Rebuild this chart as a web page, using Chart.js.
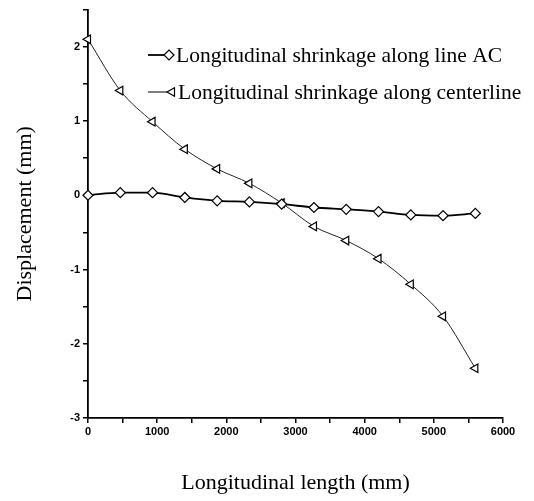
<!DOCTYPE html>
<html>
<head>
<meta charset="utf-8">
<script src="https://cdn.jsdelivr.net/npm/chart.js@4.4.1/dist/chart.umd.min.js"></script>
<style>
  html, body { margin: 0; padding: 0; background: #fff; }
  #wrap { width: 534px; height: 501px; position: relative; }
</style>
</head>
<body>
<div id="wrap"><canvas id="c" width="534" height="501"></canvas></div>
<script>
// ---- data ----
const xPositions = [0, 467, 933, 1400, 1867, 2333, 2800, 3267, 3733, 4200, 4667, 5133, 5600];
const lineAC = [0.0, 0.035, 0.035, -0.03, -0.075, -0.09, -0.12, -0.165, -0.19, -0.22, -0.265, -0.275, -0.245];
const centerline = [2.1, 1.41, 0.99, 0.62, 0.355, 0.16, -0.105, -0.42, -0.61, -0.855, -1.2, -1.63, -2.33];
const xTickValues = [0, 500, 1000, 1500, 2000, 2500, 3000, 3500, 4000, 4500, 5000, 5500, 6000];
const xTickLabels = ['0', '', '1000', '', '2000', '', '3000', '', '4000', '', '5000', '', '6000'];
const yTickValues = [-3, -2.5, -2, -1.5, -1, -0.5, 0, 0.5, 1, 1.5, 2, 2.5];
const yTickLabels = ['-3', '', '-2', '', '-1', '', '0', '', '1', '', '2', ''];
const seriesNames = ['Longitudinal shrinkage along line AC', 'Longitudinal shrinkage along centerline'];

const acData = xPositions.map((x, i) => ({ x: x, y: lineAC[i] }));
const clData = xPositions.map((x, i) => ({ x: x, y: centerline[i] }));

const legendPlugin = {
  id: 'customLegend',
  afterDraw(chart) {
    const ctx = chart.ctx;
    ctx.save();
    ctx.font = '21.5px "Liberation Serif", "Times New Roman", serif';
    ctx.textBaseline = 'middle';
    ctx.fillStyle = '#000';
    const rows = [
      { y: 55, lw: 1.8, x0: 148, x1: 164, mx: 169, style: 'rectRot', rot: 0, tx: 176 },
      { y: 92, lw: 1, x0: 148, x1: 167, mx: 172, style: 'triangle', rot: -90, tx: 178 }
    ];
    rows.forEach((r, i) => {
      ctx.strokeStyle = '#000';
      ctx.lineWidth = r.lw;
      ctx.beginPath();
      ctx.moveTo(r.x0, r.y);
      ctx.lineTo(r.x1, r.y);
      ctx.stroke();
      ctx.fillStyle = '#fff';
      ctx.lineWidth = 1.2;
      Chart.helpers.drawPoint(ctx, { pointStyle: r.style, radius: 5, rotation: r.rot, borderWidth: 1.2 }, r.mx, r.y);
      ctx.fillStyle = '#000';
      ctx.fillText(seriesNames[i], r.tx, r.y + 1);
    });
    ctx.restore();
  }
};

new Chart(document.getElementById('c'), {
  type: 'scatter',
  data: {
    datasets: [
      {
        label: seriesNames[0],
        data: acData,
        showLine: true,
        cubicInterpolationMode: 'monotone',
        borderColor: '#000',
        borderWidth: 1.8,
        pointStyle: 'rectRot',
        pointRadius: 5,
        pointBackgroundColor: '#fff',
        pointBorderColor: '#000',
        pointBorderWidth: 1.2,
        clip: false,
        order: 1
      },
      {
        label: seriesNames[1],
        data: clData,
        showLine: true,
        cubicInterpolationMode: 'monotone',
        borderColor: '#222',
        borderWidth: 1,
        pointStyle: 'triangle',
        pointRotation: -90,
        pointRadius: 5,
        pointBackgroundColor: '#fff',
        pointBorderColor: '#000',
        pointBorderWidth: 1.2,
        clip: false,
        order: 2
      }
    ]
  },
  options: {
    responsive: false,
    animation: false,
    devicePixelRatio: 1,
    layout: { padding: { top: 8, right: 31, left: 0, bottom: 0 } },
    plugins: { legend: { display: false }, tooltip: { enabled: false } },
    scales: {
      x: {
        type: 'linear',
        min: 0, max: 6000,
        afterBuildTicks(scale) { scale.ticks = xTickValues.map(v => ({ value: v })); },
        afterFit(scale) { scale.height = 83; },
        border: { display: true, color: '#000', width: 1.8 },
        grid: { display: true, drawOnChartArea: false, drawTicks: true, tickLength: 5, color: '#000', lineWidth: 1.5 },
        ticks: {
          autoSkip: false, maxRotation: 0, padding: 2,
          color: '#000',
          font: { family: '"Liberation Sans", Arial, sans-serif', size: 11, weight: 'bold' },
          callback: (v, i) => xTickLabels[i]
        },
        title: {
          display: true, text: 'Longitudinal length (mm)', color: '#000',
          font: { family: '"Liberation Serif", "Times New Roman", serif', size: 22 },
          padding: { top: 0, bottom: 5 }
        }
      },
      y: {
        type: 'linear',
        min: -3, max: 2.5,
        afterBuildTicks(scale) { scale.ticks = yTickValues.map(v => ({ value: v })); },
        afterFit(scale) { scale.width = 88; },
        border: { display: true, color: '#000', width: 1.8 },
        grid: { display: true, drawOnChartArea: false, drawTicks: true, tickLength: 5, color: '#000', lineWidth: 1.5 },
        ticks: {
          autoSkip: false, padding: 3,
          color: '#000',
          font: { family: '"Liberation Sans", Arial, sans-serif', size: 11, weight: 'bold' },
          callback: (v, i) => yTickLabels[i]
        },
        title: {
          display: true, text: 'Displacement (mm)', color: '#000',
          font: { family: '"Liberation Serif", "Times New Roman", serif', size: 22 },
          padding: { top: 12, bottom: 0 }
        }
      }
    }
  },
  plugins: [legendPlugin]
});
</script>
</body>
</html>
